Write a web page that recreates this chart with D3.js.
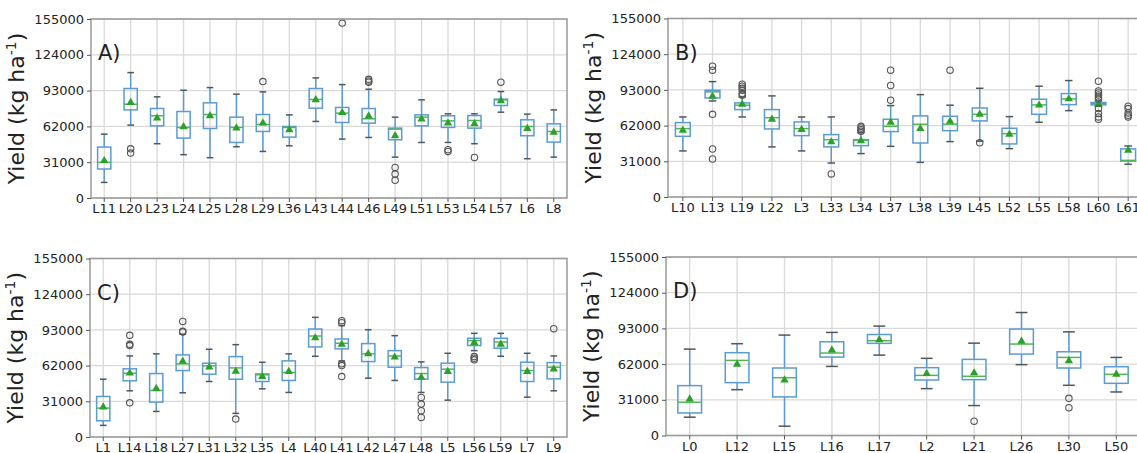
<html>
  <head>
    <style>
      body { margin: 0; background: #fff; }
      text { font-family: "DejaVu Sans", sans-serif; fill: #222; }
    </style>
  </head>
  <body>
    <script src="https://cdn.jsdelivr.net/npm/d3@7"></script>
    <script>
    // panel A
    var catsA = ["L11","L20","L23","L24","L25","L28","L29","L36","L43","L44","L46","L49","L51","L53","L54","L57","L6","L8"];
    var lowA  = [13500,63100,47000,37500,34900,44400,40300,45200,66300,51000,52400,35400,48100,48100,47000,74300,34000,35400];
    var q1A   = [25100,76300,62500,51900,60200,48100,57600,52700,77800,65400,64800,50400,62500,61100,60500,80100,53900,48400];
    var medA  = [30800,81200,71200,61100,72300,61100,63700,61100,85300,73500,68600,59600,70000,66800,67100,85000,61900,57600];
    var q3A   = [44100,94800,77500,74900,82400,70000,72300,61900,94800,78400,77500,60500,72000,71200,71400,85600,67700,64200];
    var highA = [55300,108600,87600,93300,95600,89900,91900,72000,104000,98200,94200,70000,85000,72900,72900,92200,72600,76300];
    var meanA = [32300,82700,69100,61700,71200,60500,64800,59100,85000,74000,70900,53900,68300,64800,64200,84100,60200,56800];
    var outA  = [[],[42600,38900],[],[],[],[],[100800],[],[],[151500],[102800,101400,100300],[26500,20700,15300],[],[41800,40300],[35100],[100300],[],[]];

    // panel B
    var catsB = ["L10","L13","L19","L22","L3","L33","L34","L37","L38","L39","L45","L52","L55","L58","L60","L61"];
    var lowB  = [40000,83400,69500,43500,40000,29500,37700,44000,30100,48100,48500,42000,64900,75000,78800,28400];
    var q1B   = [52700,86000,75900,59100,53300,43500,44600,56800,46900,57600,66100,46100,71800,80200,80000,31200];
    var medB  = [59400,91300,79700,68900,59400,49800,49200,61400,63200,63200,71800,55000,80000,85200,81100,31800];
    var q3B   = [64600,92700,81700,75900,65200,54200,49800,67500,70400,70100,77300,59700,84900,89800,82000,41800];
    var highB = [69500,100200,86900,87800,69500,69500,56000,79400,88900,79700,94400,69800,96200,101100,83400,44300];
    var meanB = [57900,87500,80500,67500,58500,47800,48700,64900,59400,65800,71800,54500,79700,85200,80500,40600];
    var outB  = [[],[113600,110100,71800,41700,33000],[97900,96200,94400,92700,89800,88400],[],[],[20000],[61400,60000,58500,57100],[110100,96800,84000],[],[110100],[47000],[],[],[],[100500,92100,90400,88600,86900,85200,76800,72400,69500,67500],[78800,76800,73000,71000,69500]];

    // panel C
    var catsC = ["L1","L14","L18","L27","L31","L32","L35","L4","L40","L41","L42","L47","L48","L5","L56","L59","L7","L9"];
    var lowC  = [10100,40100,22200,38400,48200,20500,41800,38700,70100,66000,51100,49100,38700,32000,75000,70100,34600,40100];
    var q1C   = [14100,48800,30300,57700,54500,50200,48200,49100,78200,76500,65500,60600,50200,47600,79400,77100,48200,50500];
    var medC  = [25100,55400,40400,63500,61800,60000,54000,56000,87700,81400,72200,70400,55100,58900,83700,82500,57700,60600];
    var q3C   = [35200,59200,55100,71300,64100,69800,54800,66100,93800,85100,81100,75000,60300,64100,85700,85700,64900,64600];
    var highC = [50200,70400,72200,89200,76200,80200,64900,72200,103900,96700,93200,88000,65200,72700,90000,90000,72700,70400];
    var meanC = [26000,55400,42100,65800,60600,57100,52500,56900,86000,80500,72200,69300,51700,56900,82000,80500,56900,58900];
    var outC  = [[],[88300,80500,79400,29700],[],[100400,91800,91200],[],[15600],[],[],[],[101000,99300,63500,62000,52500],[],[],[34300,28600,22800,17000],[],[69800,68400,67000],[],[],[94100]];

    // panel D
    var catsD = ["L0","L12","L15","L16","L17","L2","L21","L26","L30","L50"];
    var lowD  = [15900,39800,8100,60000,69800,40700,26000,61500,43600,37800];
    var q1D   = [19600,45900,33500,68100,80000,48200,48500,70700,58600,45300];
    var medD  = [28900,65200,50200,71600,82300,52200,51400,79400,67800,53100];
    var q3D   = [43300,71900,58600,81400,87700,58900,66100,92400,72700,59700];
    var highD = [75000,79700,87200,89500,95000,67000,80200,106800,90000,67800];
    var meanD = [31700,61800,48200,74200,83100,53700,54300,81700,64900,53100];
    var outD  = [[],[],[],[],[],[],[12400],[],[32300,24200],[]];

    var yTicks = [0, 31000, 62000, 93000, 124000, 155000];

    var width = 1137, height = 453;
    var svg = d3.select("body").append("svg")
        .attr("width", width)
        .attr("height", height);

    var panels = [
      {label: "A)", cats: catsA, low: lowA, q1: q1A, med: medA, q3: q3A, high: highA, mean: meanA, out: outA, x: 91, y: 19, w: 476, h: 179},
      {label: "B)", cats: catsB, low: lowB, q1: q1B, med: medB, q3: q3B, high: highB, mean: meanB, out: outB, x: 668, y: 18.5, w: 475, h: 178.5},
      {label: "C)", cats: catsC, low: lowC, q1: q1C, med: medC, q3: q3C, high: highC, mean: meanC, out: outC, x: 90, y: 258.5, w: 477, h: 178.5},
      {label: "D)", cats: catsD, low: lowD, q1: q1D, med: medD, q3: q3D, high: highD, mean: meanD, out: outD, x: 666, y: 257, w: 474, h: 178.5}
    ];

    panels.forEach(function(p) {
      var g = svg.append("g").attr("transform", "translate(" + p.x + "," + p.y + ")");
      var x = d3.scaleBand().domain(p.cats).range([0, p.w]);
      var y = d3.scaleLinear().domain([0, 155000]).range([p.h, 0]);
      var bw = x.bandwidth() * 0.5;
      var cx = function(c) { return x(c) + x.bandwidth() / 2; };

      // grid
      g.selectAll(".gy").data(yTicks).enter().append("line")
          .attr("x1", 0).attr("x2", p.w)
          .attr("y1", function(d) { return y(d); }).attr("y2", function(d) { return y(d); })
          .attr("stroke", "#d9d9d9").attr("stroke-width", 1.3);
      g.selectAll(".gx").data(p.cats).enter().append("line")
          .attr("x1", cx).attr("x2", cx)
          .attr("y1", 0).attr("y2", p.h)
          .attr("stroke", "#d9d9d9").attr("stroke-width", 1.3);

      var rows = p.cats.map(function(c, i) {
        return {c: c, low: p.low[i], q1: p.q1[i], med: p.med[i], q3: p.q3[i], high: p.high[i], mean: p.mean[i], out: p.out[i]};
      });

      var box = g.selectAll(".box").data(rows).enter().append("g");
      // whiskers
      box.append("line")
          .attr("x1", function(d) { return cx(d.c); }).attr("x2", function(d) { return cx(d.c); })
          .attr("y1", function(d) { return y(d.high); }).attr("y2", function(d) { return y(d.q3); })
          .attr("stroke", "#5a9bd3").attr("stroke-width", 1.5);
      box.append("line")
          .attr("x1", function(d) { return cx(d.c); }).attr("x2", function(d) { return cx(d.c); })
          .attr("y1", function(d) { return y(d.q1); }).attr("y2", function(d) { return y(d.low); })
          .attr("stroke", "#5a9bd3").attr("stroke-width", 1.5);
      // caps
      ["high", "low"].forEach(function(k) {
        box.append("line")
            .attr("x1", function(d) { return cx(d.c) - bw / 4; }).attr("x2", function(d) { return cx(d.c) + bw / 4; })
            .attr("y1", function(d) { return y(d[k]); }).attr("y2", function(d) { return y(d[k]); })
            .attr("stroke", "#555").attr("stroke-width", 1.5);
      });
      // box
      box.append("rect")
          .attr("x", function(d) { return cx(d.c) - bw / 2; })
          .attr("y", function(d) { return y(d.q3); })
          .attr("width", bw)
          .attr("height", function(d) { return Math.max(1, y(d.q1) - y(d.q3)); })
          .attr("fill", "none").attr("stroke", "#5a9bd3").attr("stroke-width", 1.5);
      // median
      box.append("line")
          .attr("x1", function(d) { return cx(d.c) - bw / 2; }).attr("x2", function(d) { return cx(d.c) + bw / 2; })
          .attr("y1", function(d) { return y(d.med); }).attr("y2", function(d) { return y(d.med); })
          .attr("stroke", "#55b555").attr("stroke-width", 1.5);
      // mean
      box.append("path")
          .attr("d", d3.symbol().type(d3.symbolTriangle).size(30))
          .attr("transform", function(d) { return "translate(" + cx(d.c) + "," + y(d.mean) + ")"; })
          .attr("fill", "#2ca02c");
      // outliers
      box.selectAll(".out").data(function(d) { return d.out.map(function(v) { return {c: d.c, v: v}; }); })
        .enter().append("circle")
          .attr("cx", function(d) { return cx(d.c); })
          .attr("cy", function(d) { return y(d.v); })
          .attr("r", 3.2)
          .attr("fill", "none").attr("stroke", "#555").attr("stroke-width", 1.1);

      // frame
      g.append("rect").attr("width", p.w).attr("height", p.h)
          .attr("fill", "none").attr("stroke", "#9a9a9a").attr("stroke-width", 1.5);

      // axes
      var ya = g.append("g").call(d3.axisLeft(y).tickValues(yTicks).tickFormat(d3.format("d")).tickSize(4));
      ya.select(".domain").remove();
      ya.selectAll("line").attr("stroke", "#555");
      ya.selectAll("text").attr("font-size", 13).attr("font-family", "DejaVu Sans").attr("fill", "#222");
      var xa = g.append("g").attr("transform", "translate(0," + p.h + ")")
          .call(d3.axisBottom(x).tickSize(4).tickPadding(2));
      xa.select(".domain").remove();
      xa.selectAll("line").attr("stroke", "#555");
      xa.selectAll("text").attr("font-size", 13).attr("font-family", "DejaVu Sans").attr("fill", "#222");

      // panel label
      g.append("text").attr("x", 7).attr("y", 41).attr("font-size", 21)
          .attr("font-family", "Open Sans").text(p.label);

      // y label
      var yl = g.append("text")
          .attr("transform", "translate(-67," + (p.h / 2) + ") rotate(-90)")
          .attr("text-anchor", "middle")
          .attr("font-family", "Open Sans")
          .attr("font-size", 22);
      yl.append("tspan").text("Yield (kg ha");
      yl.append("tspan").attr("baseline-shift", "super").attr("font-size", 14).text("-1");
      yl.append("tspan").text(")");
    });
    </script>
  </body>
</html>
